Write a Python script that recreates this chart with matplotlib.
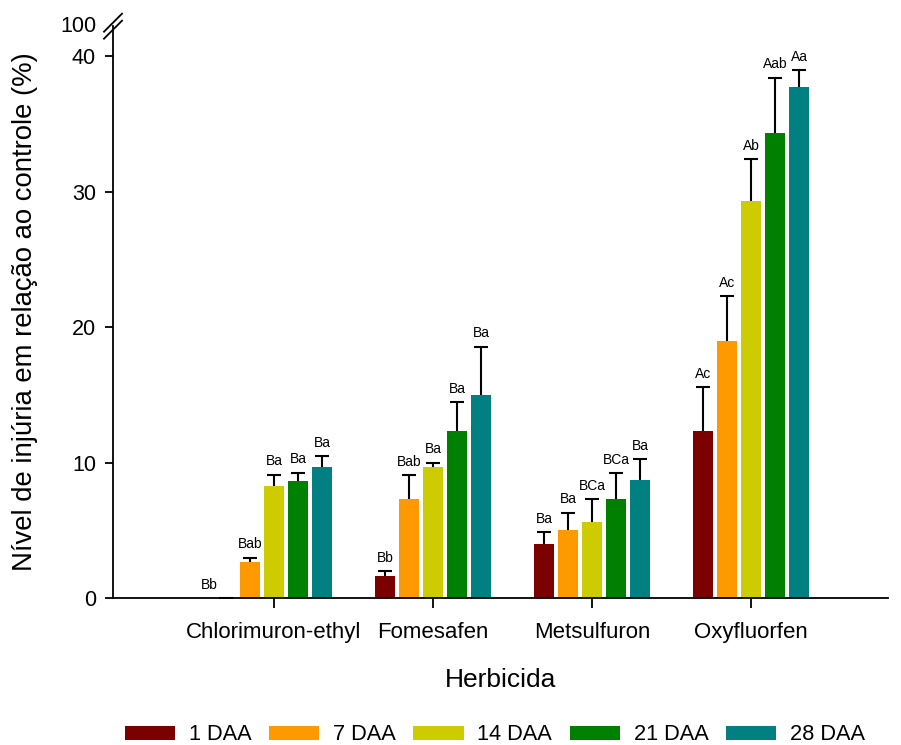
import matplotlib
matplotlib.use("Agg")
import matplotlib.pyplot as plt
import numpy as np

plt.rcParams['font.family'] = ['Liberation Sans', 'DejaVu Sans']

herbicides = ["Chlorimuron-ethyl", "Fomesafen", "Metsulfuron", "Oxyfluorfen"]
series = ["1 DAA", "7 DAA", "14 DAA", "21 DAA", "28 DAA"]
colors = ["#7B0000", "#FF9900", "#CCCC00", "#008000", "#008080"]

daa1 = [0.0, 1.62, 3.98, 12.3]
daa7 = [2.65, 7.3, 5.0, 19.0]
daa14 = [8.3, 9.7, 5.63, 29.3]
daa21 = [8.65, 12.3, 7.33, 34.3]
daa28 = [9.65, 15.0, 8.68, 37.7]

err1 = [0.0, 0.38, 0.87, 3.27]
err7 = [0.33, 1.78, 1.3, 3.3]
err14 = [0.8, 0.3, 1.65, 3.1]
err21 = [0.6, 2.15, 1.89, 4.1]
err28 = [0.8, 3.55, 1.58, 1.27]

lab1 = ["Bb", "Bb", "Ba", "Ac"]
lab7 = ["Bab", "Bab", "Ba", "Ac"]
lab14 = ["Ba", "Ba", "BCa", "Ab"]
lab21 = ["Ba", "Ba", "BCa", "Aab"]
lab28 = ["Ba", "Ba", "Ba", "Aa"]

yticks = [0, 10, 20, 30, 40]

values = [daa1, daa7, daa14, daa21, daa28]
errors = [err1, err7, err14, err21, err28]
labels = [lab1, lab7, lab14, lab21, lab28]

fig = plt.figure(figsize=(9.01, 7.45), dpi=100)
ax = fig.add_axes([113/901, 147/745, 775/901, 571.8/745])

x = np.arange(len(herbicides))
step = 0.151
width = 0.126
ytop = 42.2

for i, (vals, errs, labs, col, name) in enumerate(zip(values, errors, labels, colors, series)):
    xs = x + (i - 2) * step
    ax.bar(xs, vals, width=width, color=col, label=name, zorder=2)
    eb = ax.errorbar(xs, vals, yerr=[np.zeros(len(errs)), errs], fmt='none',
                     ecolor='black', elinewidth=1.5, capsize=4.7, capthick=1.5, zorder=3)
    caps = eb[1]
    if len(caps) >= 1:
        caps[0].set_visible(False)
    for j, (xx, v, e, t) in enumerate(zip(xs, vals, errs, labs)):
        dx = -12 if (v == 0 and e == 0) else 0
        ax.annotate(t, (xx, v + e), xytext=(dx, 4.5), textcoords='offset points',
                    ha='center', va='bottom', fontsize=10)

ax.set_xlim(-1.013, 3.862)
ax.set_ylim(0, ytop)
ax.set_yticks(yticks)
ax.set_yticklabels([str(t) for t in yticks], fontsize=15.5)
ax.set_xticks(x)
ax.set_xticklabels(herbicides, fontsize=16)
ax.tick_params(axis='y', direction='out', length=6, width=1.3, pad=6.3)
ax.tick_params(axis='x', direction='out', length=7, width=1.3, pad=10)
for s in ['top', 'right']:
    ax.spines[s].set_visible(False)
for s in ['left', 'bottom']:
    ax.spines[s].set_linewidth(1.3)

# "100" label at the top of broken axis
ax.text(-17/775, ytop, "100", transform=ax.get_yaxis_transform(), ha='right', va='center', fontsize=15.5)
# break marks
hpx = 571.8
wpx = 775
for dy in (-3.5, 3.5):
    ax.plot([-9/wpx, 9/wpx], [1 + (dy - 9)/hpx, 1 + (dy + 9)/hpx], transform=ax.transAxes,
            color='black', lw=1.3, clip_on=False)

ax.set_xlabel("Herbicida", fontsize=19, labelpad=18)
ax.set_ylabel("Nível de injúria em relação ao controle (%)", fontsize=19.8, labelpad=24)

fig.legend(loc='center', bbox_to_anchor=(495/901, 1 - 735/745), ncol=5, frameon=False,
           fontsize=15.7, handlelength=2.3, handleheight=0.64, handletextpad=0.64,
           columnspacing=0.8)

fig.savefig("out.png", dpi=100)
